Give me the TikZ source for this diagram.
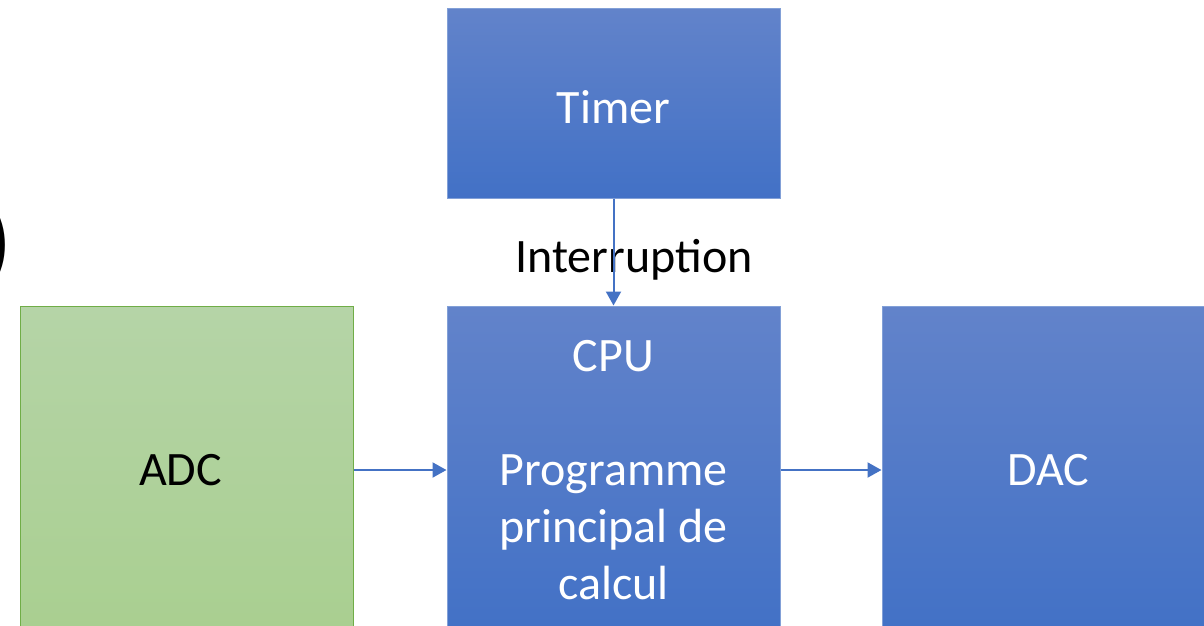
\documentclass[tikz,border=0pt]{standalone}
\usepackage{fontspec}
\setmainfont{Carlito}
\usetikzlibrary{arrows.meta}
\definecolor{bluetop}{RGB}{98,131,202}
\definecolor{bluebot}{RGB}{66,113,198}
\definecolor{blueedge}{RGB}{130,160,215}
\definecolor{greentop}{RGB}{181,212,167}
\definecolor{greenbot}{RGB}{169,207,144}
\definecolor{greenedge}{RGB}{112,173,71}
\definecolor{linkblue}{RGB}{68,114,196}
\begin{document}
\begin{tikzpicture}[x=1pt, y=-1pt,
    bluebox/.style={draw=blueedge, line width=1pt, top color=bluetop, bottom color=bluebot,
      minimum width=333pt, inner sep=0pt, text=white, align=center,
      font=\fontsize{48}{57}\selectfont},
    greenbox/.style={bluebox, draw=greenedge, top color=greentop, bottom color=greenbot, text=black},
    link/.style={draw=linkblue, line width=2pt, -{Triangle[length=14pt, width=15pt]}}]
  \useasboundingbox (0,0) rectangle (1204,625);
  \clip (0,0) rectangle (1204,625);
  \node[bluebox, minimum height=190pt] (timer) at (613.5,103) {\raisebox{-4pt}[\height][\depth]{Timer}};
  \node[bluebox, minimum height=328pt] (cpu) at (613.5,470)
    {CPU\\[57pt]Programme\\principal de\\calcul};
  \node[greenbox, minimum height=328pt] (adc) at (186.5,470) {\hspace*{-12pt}ADC};
  \node[bluebox, minimum height=328pt] (dac) at (1048.5,470) {DAC};
  \node[font=\fontsize{48}{57}\selectfont] (irq) at (634,260) {Interruption};
  \node[font=\fontsize{95}{100}\selectfont, anchor=east, inner sep=0pt] (paren) at (13,245) {)};
  \draw[link] (timer) -- (cpu);
  \draw[link] (adc) -- (cpu);
  \draw[link] (cpu) -- (dac);
\end{tikzpicture}
\end{document}
